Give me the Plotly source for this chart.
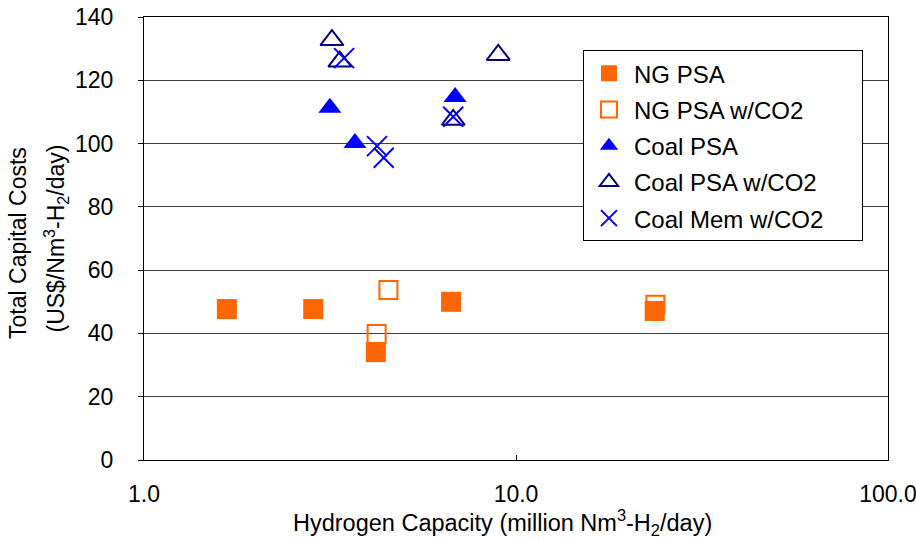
import plotly.graph_objects as go

# Data
ng_psa_x = [1.67, 2.85, 4.20, 6.69, 23.6]
ng_psa_y = [47.7, 47.7, 34.1, 50.0, 47.1]

ng_psa_co2_x = [4.54, 4.22, 23.7]
ng_psa_co2_y = [53.7, 39.8, 49.1]

coal_psa_x = [3.16, 3.69, 6.86]
coal_psa_y = [111.3, 100.2, 114.7]

coal_psa_co2_x = [3.20, 3.36, 8.96, 6.78]
coal_psa_co2_y = [132.7, 125.9, 128.0, 107.5]

coal_mem_co2_x = [3.45, 4.23, 4.41, 6.78]
coal_mem_co2_y = [127.0, 99.2, 95.5, 108.5]

x_tickvals = [1, 10, 100]
x_ticktext = ["1.0", "10.0", "100.0"]
y_tickvals = [0, 20, 40, 60, 80, 100, 120, 140]

x_title = "Hydrogen Capacity (million Nm<sup>3</sup>-H<sub>2</sub>/day)"
y_title_1 = "Total Capital Costs"
y_title_2 = "(US$/Nm<sup>3</sup>-H<sub>2</sub>/day)"

ORANGE = "#FF6600"
BLUE = "#0000FF"
NAVY = "#000080"
FONT = "Liberation Sans, Arial, sans-serif"
PAD = "\u00a0" * 5

fig = go.Figure()
# open squares drawn first so the filled squares sit on top (as in the reference)
fig.add_trace(go.Scatter(x=ng_psa_co2_x, y=ng_psa_co2_y, mode="markers", name="NG PSA w/CO2",
                         legendgroup="b", legendrank=2,
                         marker=dict(symbol="square-open", size=18, color=ORANGE,
                                     line=dict(width=2, color=ORANGE))))
fig.add_trace(go.Scatter(x=ng_psa_x, y=ng_psa_y, mode="markers", name="NG PSA",
                         legendgroup="a", legendrank=1,
                         marker=dict(symbol="square", size=20, color=ORANGE,
                                     line=dict(width=0))))
fig.add_trace(go.Scatter(x=coal_psa_co2_x, y=coal_psa_co2_y, mode="markers", name="Coal PSA w/CO2",
                         legendgroup="d", legendrank=4,
                         marker=dict(symbol="triangle-up-open", size=20, color=NAVY,
                                     line=dict(width=2, color=NAVY))))
fig.add_trace(go.Scatter(x=coal_psa_x, y=coal_psa_y, mode="markers", name="Coal PSA",
                         legendgroup="c", legendrank=3,
                         marker=dict(symbol="triangle-up", size=20, color=BLUE,
                                     line=dict(width=0))))
fig.add_trace(go.Scatter(x=coal_mem_co2_x, y=coal_mem_co2_y, mode="markers",
                         name="Coal Mem w/CO2" + PAD,
                         legendgroup="e", legendrank=5,
                         marker=dict(symbol="x-thin-open", size=20, color=BLUE,
                                     line=dict(width=2, color=BLUE))))

fig.update_layout(
    width=916, height=541,
    margin=dict(l=144, r=28, t=17, b=81, autoexpand=False),
    paper_bgcolor="white", plot_bgcolor="white",
    font=dict(family=FONT, color="black", size=23),
    legend=dict(x=0.59, y=0.925, xanchor="left", yanchor="top",
                bgcolor="white", bordercolor="black", borderwidth=1,
                font=dict(size=24, family=FONT), tracegroupgap=2,
                itemwidth=40),
    showlegend=True,
    annotations=[
        dict(text=y_title_1, textangle=-90, xref="paper", yref="paper",
             x=0, y=0.49, xshift=-126, xanchor="center", yanchor="middle",
             showarrow=False, font=dict(size=23, family=FONT)),
        dict(text=y_title_2, textangle=-90, xref="paper", yref="paper",
             x=0, y=0.5, xshift=-89, xanchor="center", yanchor="middle",
             showarrow=False, font=dict(size=23, family=FONT)),
        dict(text=x_title, xref="paper", yref="paper",
             x=0.5, y=0, xshift=-14, yshift=-62, xanchor="center", yanchor="middle",
             showarrow=False, font=dict(size=23.5, family=FONT)),
    ],
)
fig.update_xaxes(type="log", range=[0, 2], tickvals=x_tickvals, ticktext=x_ticktext,
                 automargin=False, ticklabeloverflow="allow",
                 showgrid=False, showline=True, linecolor="black", linewidth=1,
                 mirror=True, ticks="inside", ticklen=5, tickcolor="black",
                 tickfont=dict(size=23, family=FONT), ticklabelstandoff=13,
                 zeroline=False)
fig.update_yaxes(range=[0, 140], tickvals=y_tickvals, automargin=False,
                 ticklabeloverflow="allow",
                 showgrid=True, gridcolor="#404040", gridwidth=1,
                 showline=True, linecolor="black", linewidth=1, mirror=True,
                 ticks="outside", ticklen=5, tickcolor="black",
                 tickfont=dict(size=23, family=FONT), ticklabelstandoff=20,
                 zeroline=False)

fig.write_html("out.html", config={"displayModeBar": False},
               post_script="document.body.style.margin='0';document.body.style.overflow='hidden';")
